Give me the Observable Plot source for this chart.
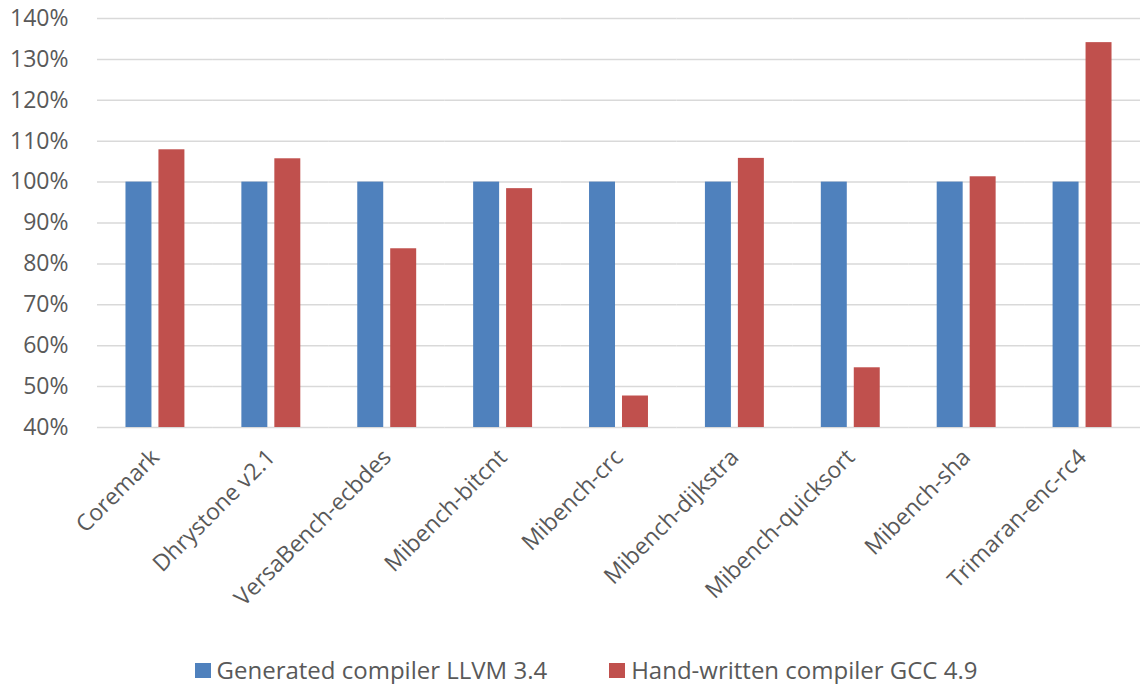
<!DOCTYPE html>
<html>
<head>
<meta charset="utf-8">
<script src="https://cdn.jsdelivr.net/npm/d3@7"></script>
<script src="https://cdn.jsdelivr.net/npm/@observablehq/plot@0.6"></script>
<style>
  body { margin: 0; background: #fff; font-family: "Open Sans", sans-serif; }
  #chart svg { display: block; }
  #legend { display: flex; justify-content: center; gap: 62px; height: 28px; margin-top: 16px; align-items: center; padding-left: 32px; }
  .item { display: flex; align-items: center; font-size: 24px; line-height: 26px; color: #595959; }
  .swatch { width: 16px; height: 15px; margin-right: 6px; }
</style>
</head>
<body>
<div id="chart"></div>
<div id="legend"></div>
<script>
// Benchmarks and relative performance of each compiler (LLVM = 100%)
const benchmarks = [
  "Coremark", "Dhrystone v2.1", "VersaBench-ecbdes", "Mibench-bitcnt", "Mibench-crc",
  "Mibench-dijkstra", "Mibench-quicksort", "Mibench-sha", "Trimaran-enc-rc4"
];
const series = ["Generated compiler LLVM 3.4", "Hand-written compiler GCC 4.9"];
const llvmValues = [1, 1, 1, 1, 1, 1, 1, 1, 1];
const gccValues = [1.079, 1.057, 0.837, 0.984, 0.477, 1.058, 0.546, 1.013, 1.341];
const yTicks = [0.4, 0.5, 0.6, 0.7, 0.8, 0.9, 1.0, 1.1, 1.2, 1.3, 1.4];
const colors = ["#4f81bd", "#c0504d"];

const rows = benchmarks.flatMap((b, i) => [
  {benchmark: b, series: series[0], value: llvmValues[i]},
  {benchmark: b, series: series[1], value: gccValues[i]}
]);
const yMin = yTicks[0];

const chart = Plot.plot({
  width: 1140,
  height: 640,
  marginLeft: 97,
  marginRight: 0,
  marginTop: 18,
  marginBottom: 213,
  style: {fontFamily: "Open Sans, sans-serif", fontSize: "23px", color: "#595959", background: "white"},
  fx: {domain: benchmarks, padding: 0, label: null, round: false},
  x: {domain: series, paddingInner: 0.212, paddingOuter: 0.864, axis: null, round: false},
  y: {domain: [yTicks[0], yTicks[yTicks.length - 1]]},
  color: {domain: series, range: colors},
  marks: [
    Plot.gridY(yTicks, {stroke: "#d9d9d9", strokeOpacity: 1, strokeWidth: 1.5}),
    Plot.axisY(yTicks, {tickSize: 0, tickPadding: 29, label: null, tickFormat: d3.format(".0%"), fill: "#595959"}),
    Plot.axisFx({anchor: "bottom", tickRotate: -45, tickSize: 0, tickPadding: 26, dx: 0, label: null, fill: "#595959"}),
    Plot.barY(rows, {fx: "benchmark", x: "series", y1: () => yMin, y2: "value", fill: "series"})
  ]
});
document.getElementById("chart").append(chart);

// Legend below the chart
const legend = document.getElementById("legend");
series.forEach((s, i) => {
  const item = document.createElement("div");
  item.className = "item";
  const sw = document.createElement("span");
  sw.className = "swatch";
  sw.style.background = colors[i];
  const label = document.createElement("span");
  label.textContent = s;
  item.append(sw, label);
  legend.append(item);
});
</script>
</body>
</html>
